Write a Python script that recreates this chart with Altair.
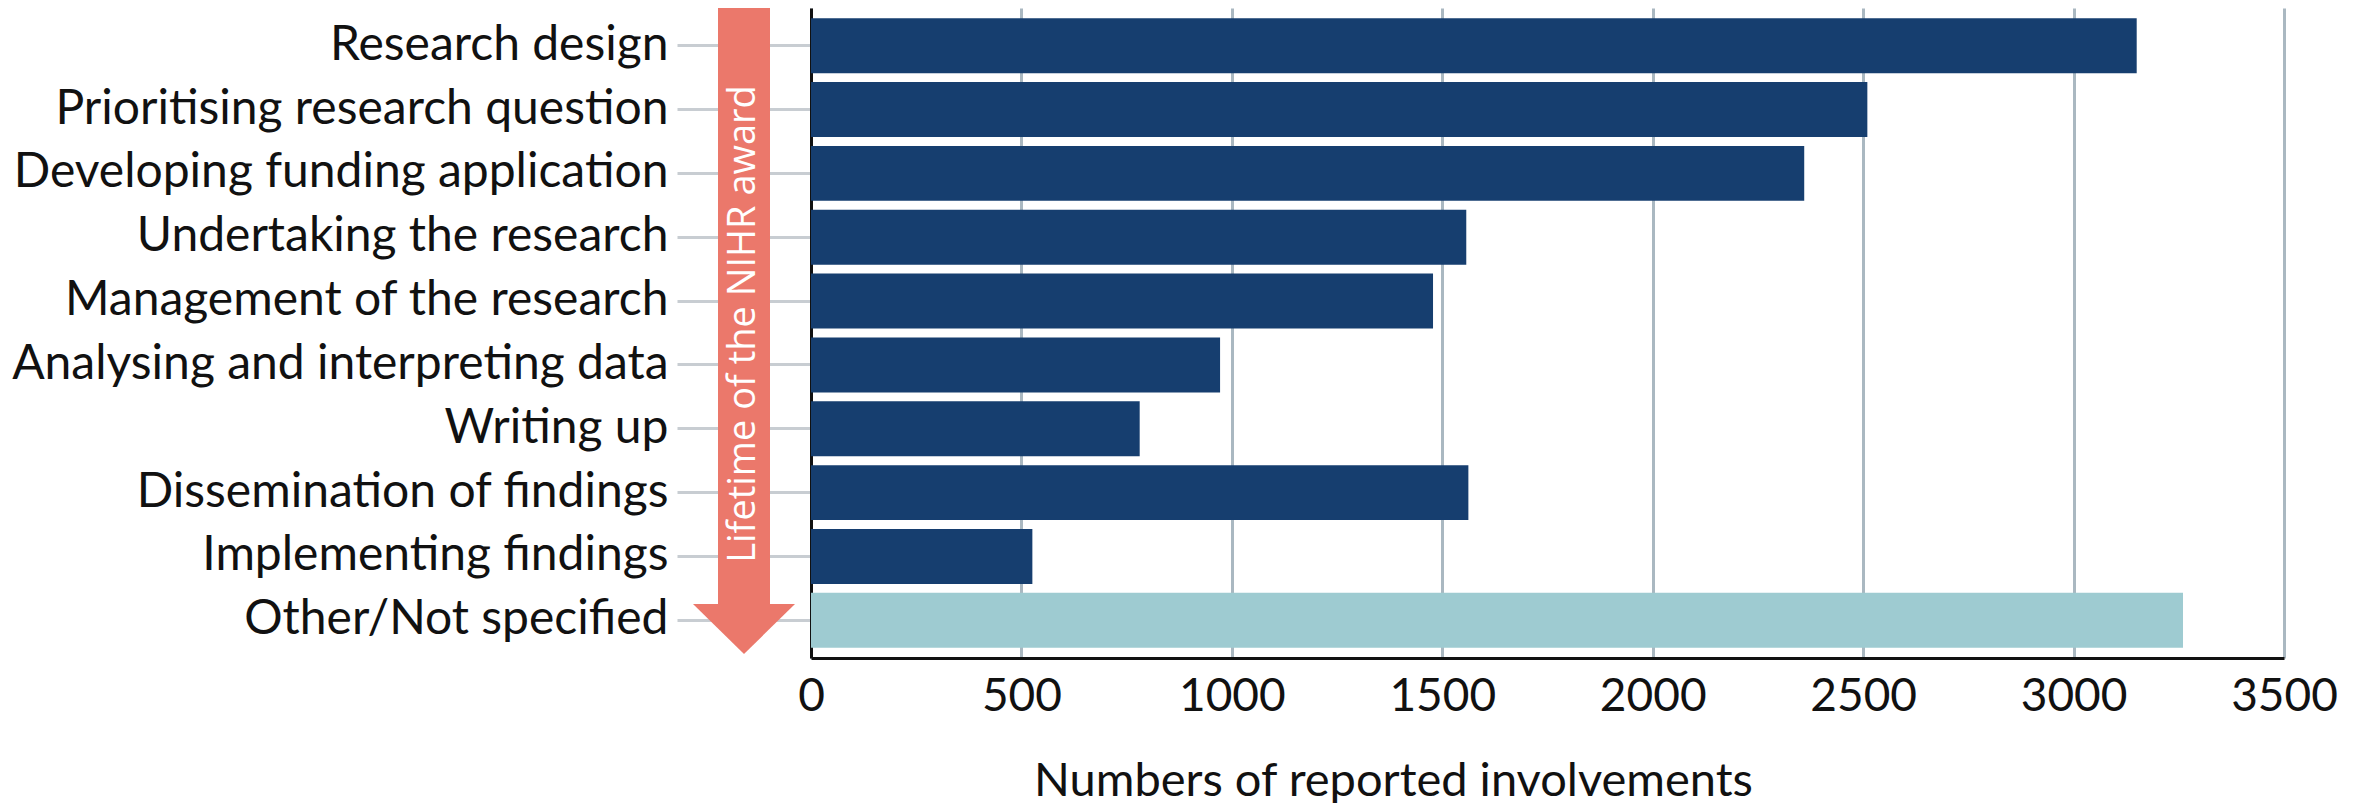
import altair as alt
import pandas as pd

categories = [
    "Research design",
    "Prioritising research question",
    "Developing funding application",
    "Undertaking the research",
    "Management of the research",
    "Analysing and interpreting data",
    "Writing up",
    "Dissemination of findings",
    "Implementing findings",
    "Other/Not specified",
]
values = [3150, 2510, 2360, 1557, 1478, 972, 781, 1562, 526, 3260]
groups = ["Lifetime stage"] * 9 + ["Other"]
x_ticks = [0, 500, 1000, 1500, 2000, 2500, 3000, 3500]
arrow_text = ["Lifetime of the NIHR award"]

df = pd.DataFrame({"stage": categories, "count": values, "group": groups})

NAVY = "#163e6f"
LIGHT = "#9ecbd1"
SALMON = "#eb786b"

bars = alt.Chart(df).mark_bar().encode(
    y=alt.Y(
        "stage:N",
        sort=categories,
        scale=alt.Scale(paddingInner=0.14, paddingOuter=0.16),
        axis=alt.Axis(
            title=None,
            labelFont="Lato",
            labelFontSize=48,
            labelColor="#111111",
            labelPadding=9,
            labelLimit=1000,
            ticks=True,
            tickSize=134,
            tickWidth=3,
            tickColor="#c8cdd2",
            domain=True,
            domainColor="#111111",
            domainWidth=3,
            grid=False,
        ),
    ),
    x=alt.X(
        "count:Q",
        scale=alt.Scale(domain=[0, 3500], nice=False),
        axis=alt.Axis(
            values=x_ticks,
            format="d",
            title="Numbers of reported involvements",
            titleFont="Lato",
            titleFontSize=47,
            titleFontWeight="normal",
            titleColor="#111111",
            titleX=582,
            titleY=137,
            titleAlign="center",
            titleBaseline="alphabetic",
            labelFont="Lato",
            labelFontSize=46,
            labelColor="#111111",
            labelPadding=16,
            labelFlush=False,
            labelOverlap=False,
            ticks=False,
            domain=True,
            domainColor="#111111",
            domainWidth=3,
            grid=True,
            gridColor="#aab8c1",
            gridWidth=3,
        ),
    ),
    color=alt.Color(
        "group:N",
        scale=alt.Scale(domain=["Lifetime stage", "Other"], range=[NAVY, LIGHT]),
        legend=None,
    ),
)

adf = pd.DataFrame({"label": arrow_text})

shaft = alt.Chart(adf).mark_rect(color=SALMON).encode(
    x=alt.value(-93), x2=alt.value(-41), y=alt.value(-1), y2=alt.value(597)
)

head = alt.Chart(adf).mark_point(
    shape="M -1 -0.49 L 1 -0.49 L 0 0.49 Z",
    filled=True,
    size=10404,
    color=SALMON,
    opacity=1,
    strokeWidth=0,
).encode(x=alt.value(-67), y=alt.value(621))

label = alt.Chart(adf).mark_text(
    angle=270,
    font="Open Sans",
    fontSize=38,
    color="white",
    align="center",
    baseline="middle",
).encode(x=alt.value(-67), y=alt.value(316), text="label:N")

chart = alt.layer(bars, shaft, head, label).properties(
    width=1473,
    height=650,
    autosize=alt.AutoSizeParams(type="none"),
    padding={"left": 803, "top": 0, "right": 80, "bottom": 150},
).configure_view(stroke=None)

chart.save("out.html", embed_options={"renderer": "svg", "actions": False})
